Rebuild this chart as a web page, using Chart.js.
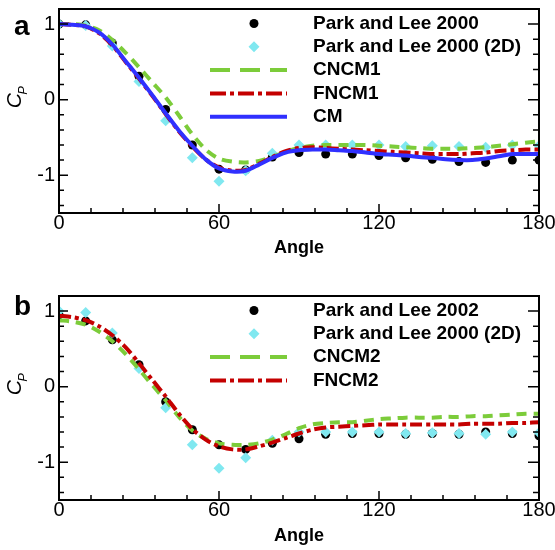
<!DOCTYPE html>
<html>
<head>
<meta charset="utf-8">
<script src="https://cdn.jsdelivr.net/npm/chart.js@4.4.1/dist/chart.umd.min.js"></script>
<style>
    html, body { margin: 0; padding: 0; background: #fff; }
    canvas { position: absolute; left: 0; }
    #chartA { top: 0; }
    #chartB { top: 280px; }
</style>
</head>
<body>
<canvas id="chartA" width="555" height="280"></canvas>
<canvas id="chartB" width="555" height="270"></canvas>
<script>
const anglesExp = [0, 10, 20, 30, 40, 50, 60, 70, 80, 90, 100, 110, 120, 130, 140, 150, 160, 170, 180];
const anglesSim = [0, 5, 10, 15, 20, 25, 30, 35, 40, 45, 50, 55, 60, 65, 70, 75, 80, 85, 90, 95,
    100, 105, 110, 115, 120, 125, 130, 135, 140, 145, 150, 155, 160, 165, 170, 175, 180];

// experiments
const parkLee2000 = [1.00, 0.99, 0.75, 0.31, -0.13, -0.60, -0.92, -0.93, -0.76, -0.70,
    -0.72, -0.72, -0.74, -0.77, -0.79, -0.82, -0.83, -0.80, -0.80];
const parkLee2D = [1.00, 0.98, 0.71, 0.24, -0.28, -0.77, -1.08, -0.94, -0.71, -0.60,
    -0.60, -0.60, -0.60, -0.62, -0.61, -0.62, -0.63, -0.60, -0.61];
const parkLee2002 = [0.95, 0.87, 0.62, 0.29, -0.20, -0.57, -0.77, -0.83, -0.75, -0.69,
    -0.63, -0.62, -0.62, -0.63, -0.62, -0.63, -0.60, -0.62, -0.65];

// simulations, panel a
const cncm1 = [1.00, 1.00, 0.98, 0.92, 0.79, 0.62, 0.43, 0.23, 0.03, -0.21, -0.46, -0.66, -0.78, -0.82,
    -0.83, -0.81, -0.76, -0.69, -0.64, -0.61, -0.60, -0.60, -0.60, -0.60, -0.61, -0.62, -0.63, -0.64,
    -0.65, -0.65, -0.65, -0.64, -0.63, -0.61, -0.59, -0.57, -0.55];
const fncm1 = [1.00, 0.99, 0.97, 0.88, 0.72, 0.50, 0.28, 0.05, -0.19, -0.42, -0.62, -0.79, -0.90, -0.94,
    -0.93, -0.85, -0.76, -0.68, -0.64, -0.63, -0.64, -0.65, -0.66, -0.67, -0.68, -0.69, -0.70, -0.71,
    -0.72, -0.72, -0.72, -0.71, -0.70, -0.68, -0.67, -0.66, -0.66];
const cm = [1.00, 0.99, 0.97, 0.89, 0.73, 0.51, 0.29, 0.06, -0.18, -0.41, -0.61, -0.79, -0.91, -0.95,
    -0.94, -0.86, -0.77, -0.70, -0.67, -0.66, -0.66, -0.67, -0.68, -0.70, -0.72, -0.73, -0.74, -0.76,
    -0.77, -0.79, -0.80, -0.80, -0.78, -0.75, -0.72, -0.72, -0.72];

// simulations, panel b
const cncm2 = [0.88, 0.86, 0.82, 0.73, 0.60, 0.43, 0.23, 0.02, -0.18, -0.40, -0.58, -0.69, -0.75, -0.77,
    -0.77, -0.75, -0.70, -0.63, -0.55, -0.50, -0.48, -0.47, -0.47, -0.45, -0.43, -0.42, -0.41, -0.41,
    -0.41, -0.40, -0.40, -0.39, -0.39, -0.38, -0.37, -0.36, -0.36];
const fncm2 = [0.94, 0.92, 0.88, 0.80, 0.68, 0.52, 0.31, 0.09, -0.13, -0.36, -0.56, -0.70, -0.79, -0.83,
    -0.83, -0.79, -0.74, -0.68, -0.62, -0.57, -0.54, -0.53, -0.52, -0.51, -0.50, -0.50, -0.50, -0.50,
    -0.50, -0.50, -0.50, -0.49, -0.49, -0.49, -0.48, -0.48, -0.47];

const xTicks = [0, 60, 120, 180];
const yTicks = [-1, 0, 1];
const xMinorStep = 12;
const yMinorStep = 0.2;

const FONT = '"Liberation Sans", Arial, Helvetica, sans-serif';
Chart.defaults.font.family = FONT;
Chart.defaults.color = '#000';

const GREEN = 'rgb(124, 204, 58)';
const RED = 'rgb(196, 0, 0)';
const BLUE = 'rgb(48, 48, 255)';
const CYAN = 'rgb(128, 232, 240)';

function pts(xs, ys) {
    return xs.map((x, i) => ({x: x, y: ys[i]}));
}

function dots(label, values, order) {
    return {
        label: label, data: pts(anglesExp, values), order: order,
        showLine: false, pointStyle: 'circle', pointRadius: 4.5,
        backgroundColor: '#000', borderColor: '#000', borderWidth: 0
    };
}

function diamonds(label, values, order) {
    return {
        label: label, data: pts(anglesExp, values), order: order,
        showLine: false, pointStyle: 'rectRot', pointRadius: 5.5,
        backgroundColor: CYAN, borderColor: CYAN, borderWidth: 0
    };
}

function curve(label, values, color, dash, legendDash, order) {
    return {
        label: label, data: pts(anglesSim, values), order: order,
        showLine: true, pointRadius: 0, borderColor: color, backgroundColor: color,
        borderWidth: 4, borderDash: dash, legendDash: legendDash, tension: 0.3
    };
}

// box, inward ticks, C_P title, panel letter and the legend
const frame = {
    id: 'frame',
    afterDraw(chart, args, opts) {
        const ctx = chart.ctx;
        const a = chart.chartArea;
        const x = chart.scales.x;
        const y = chart.scales.y;
        ctx.save();

        ctx.strokeStyle = '#000';
        ctx.lineWidth = 1.5;
        ctx.beginPath();
        for (let v = x.min; v <= x.max + 0.001; v += xMinorStep) {
            const px = x.getPixelForValue(v);
            const len = xTicks.includes(v) ? 9 : 5;
            ctx.moveTo(px, a.bottom);
            ctx.lineTo(px, a.bottom - len);
        }
        for (let i = Math.ceil(y.min / yMinorStep); i * yMinorStep <= y.max + 0.001; i++) {
            const v = Math.round(i * yMinorStep * 10) / 10;
            const py = y.getPixelForValue(v);
            const len = yTicks.includes(v) ? 9 : 5;
            ctx.moveTo(a.left, py);
            ctx.lineTo(a.left + len, py);
            ctx.moveTo(a.right, py);
            ctx.lineTo(a.right - len - (yTicks.includes(v) ? 2 : 1), py);
        }
        ctx.stroke();

        ctx.lineWidth = 2;
        ctx.strokeRect(a.left, a.top, a.right - a.left, a.bottom - a.top);

        // C_P
        ctx.fillStyle = '#000';
        ctx.translate(15, y.getPixelForValue(0) + 1);
        ctx.rotate(-Math.PI / 2);
        ctx.font = 'italic 21px ' + FONT;
        ctx.textAlign = 'center';
        ctx.textBaseline = 'middle';
        ctx.fillText('C', 0, 0);
        ctx.font = 'italic 13px ' + FONT;
        ctx.textAlign = 'left';
        ctx.fillText('P', 6, 8);
        ctx.setTransform(1, 0, 0, 1, 0, 0);

        ctx.font = 'bold 28px ' + FONT;
        ctx.textBaseline = 'alphabetic';
        ctx.fillText(opts.letter, 14, 35);

        // legend
        ctx.font = 'bold 19px ' + FONT;
        ctx.textBaseline = 'middle';
        chart.data.datasets.forEach((ds, i) => {
            const ly = a.top + 14.5 + i * 23.3;
            if (ds.showLine) {
                ctx.strokeStyle = ds.borderColor;
                ctx.lineWidth = ds.borderWidth;
                ctx.setLineDash(ds.legendDash);
                ctx.beginPath();
                ctx.moveTo(210, ly);
                ctx.lineTo(287, ly);
                ctx.stroke();
                ctx.setLineDash([]);
            } else {
                ctx.fillStyle = ds.backgroundColor;
                ctx.beginPath();
                if (ds.pointStyle === 'circle') {
                    ctx.arc(254, ly, ds.pointRadius, 0, Math.PI * 2);
                } else {
                    const r = ds.pointRadius;
                    ctx.moveTo(254, ly - r);
                    ctx.lineTo(254 + r, ly);
                    ctx.lineTo(254, ly + r);
                    ctx.lineTo(254 - r, ly);
                    ctx.closePath();
                }
                ctx.fill();
            }
            ctx.fillStyle = '#000';
            ctx.fillText(ds.label, 313, ly);
        });
        ctx.restore();
    }
};

function makeOptions(letter, padTop, axisHeight, titlePad) {
    return {
        responsive: false,
        animation: false,
        layout: {padding: {left: 0, right: 16, top: padTop, bottom: 0}},
        plugins: {
            legend: {display: false},
            tooltip: {enabled: false},
            frame: {letter: letter}
        },
        scales: {
            x: {
                type: 'linear', min: 0, max: 180,
                grid: {display: false, drawTicks: false},
                border: {display: false},
                afterBuildTicks: s => { s.ticks = xTicks.map(v => ({value: v})); },
                ticks: {font: {size: 20, lineHeight: 1}, padding: 0, maxRotation: 0},
                title: {
                    display: true, text: 'Angle',
                    font: {size: 18, weight: 'bold'},
                    padding: {top: 0, bottom: titlePad}
                },
                afterFit: s => { s.height = axisHeight; s.paddingLeft = 0; s.paddingRight = 0; }
            },
            y: {
                type: 'linear', min: -1.5, max: 1.2,
                grid: {display: false, drawTicks: false},
                border: {display: false},
                afterBuildTicks: s => { s.ticks = yTicks.map(v => ({value: v})); },
                ticks: {font: {size: 20}, padding: 4},
                afterFit: s => { s.width = 59; s.paddingTop = 0; s.paddingBottom = 0; }
            }
        }
    };
}

new Chart(document.getElementById('chartA'), {
    type: 'scatter',
    data: {
        datasets: [
            dots('Park and Lee 2000', parkLee2000, 6),
            diamonds('Park and Lee 2000 (2D)', parkLee2D, 5),
            curve('CNCM1', cncm1, GREEN, [10, 7], [20, 10], 3),
            curve('FNCM1', fncm1, RED, [12, 4, 4, 4], [16, 4, 4, 4], 2),
            curve('CM', cm, BLUE, [], [], 1)
        ]
    },
    options: makeOptions('a', 9, 67, 21),
    plugins: [frame]
});

new Chart(document.getElementById('chartB'), {
    type: 'scatter',
    data: {
        datasets: [
            dots('Park and Lee 2002', parkLee2002, 6),
            diamonds('Park and Lee 2000 (2D)', parkLee2D, 5),
            curve('CNCM2', cncm2, GREEN, [10, 7], [20, 10], 3),
            curve('FNCM2', fncm2, RED, [12, 4, 4, 4], [16, 4, 4, 4], 2)
        ]
    },
    options: makeOptions('b', 16, 50, 3.5),
    plugins: [frame]
});
</script>
</body>
</html>
